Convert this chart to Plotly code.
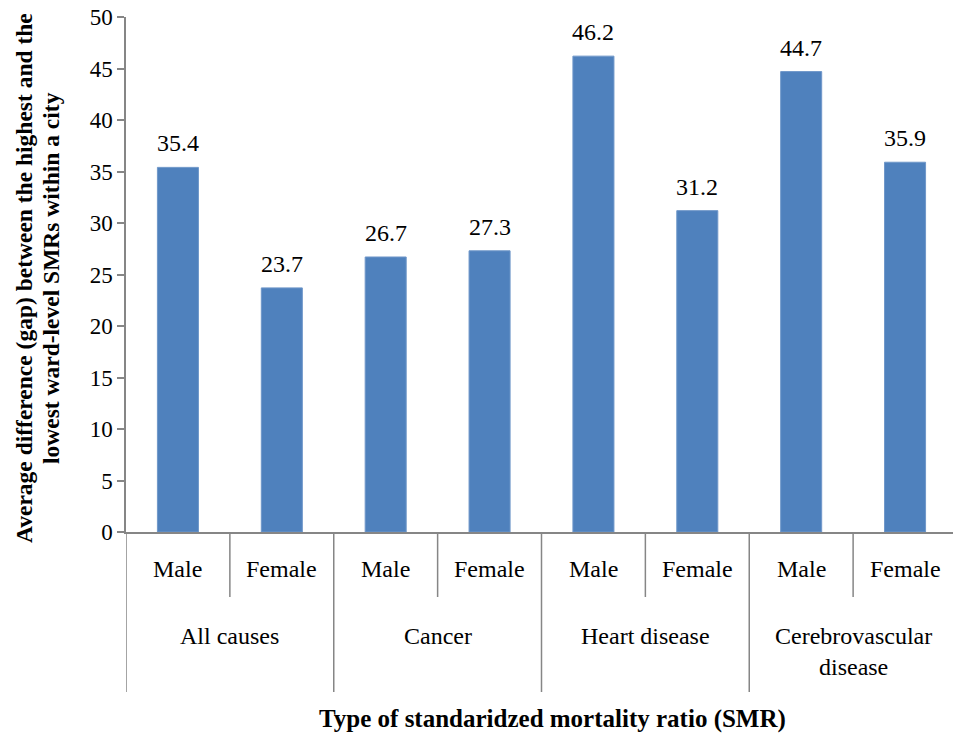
import plotly.graph_objects as go

# Cause-of-death groups and the sex sub-categories within each group
groups = ["All causes", "Cancer", "Heart disease", "Cerebrovascular<br>disease"]
sexes = ["Male", "Female"]
# Average gap between highest and lowest ward-level SMR, ordered group by group (Male, Female)
values = [35.4, 23.7, 26.7, 27.3, 46.2, 31.2, 44.7, 35.9]
y_ticks = [0, 5, 10, 15, 20, 25, 30, 35, 40, 45, 50]
y_title_lines = [
    "Average difference (gap) between the highest and the",
    "lowest ward-level SMRs within a city",
]
x_title = "Type of standaridzed mortality ratio (SMR)"

FONT = "Liberation Serif"
AXIS_GREY = "#868686"
BAR_BLUE = "#4F81BD"

W, H = 953, 739
M_L, M_R, M_T, M_B = 126, 0, 17, 207
PLOT_H = H - M_T - M_B
PLOT_W = W - M_L - M_R


def serif(size, weight=400):
    return dict(family=FONT, size=size, weight=weight, color="black")


x_pos = list(range(len(values)))

fig = go.Figure()
fig.add_trace(go.Bar(
    x=x_pos,
    y=values,
    marker=dict(color=BAR_BLUE, line=dict(color="#6f97c9", width=1)),
    width=0.395,
    hoverinfo="x+y",
))

annotations = []
# value labels above each bar
for xi, v in zip(x_pos, values):
    annotations.append(dict(
        x=xi, y=v, xref="x", yref="y", text=f"{v:.1f}", showarrow=False,
        yanchor="middle", yshift=24, font=serif(24),
    ))


def px_below_axis(px):
    """Paper y coordinate for a point `px` pixels below the x axis."""
    return -px / PLOT_H


# sub-category labels (Male / Female)
for gi, g in enumerate(groups):
    for si, s in enumerate(sexes):
        xi = gi * len(sexes) + si
        annotations.append(dict(
            x=xi, y=px_below_axis(37), xref="x", yref="paper", text=s,
            showarrow=False, yanchor="middle", font=serif(24),
        ))
    # group labels
    annotations.append(dict(
        x=gi * len(sexes) + 0.5, y=px_below_axis(89), xref="x", yref="paper",
        text=g, showarrow=False, yanchor="top", align="center", font=serif(24),
    ))

# x axis title
annotations.append(dict(
    x=(552 - M_L) / PLOT_W, y=px_below_axis(187), xref="paper", yref="paper",
    text=x_title, showarrow=False,
    yanchor="middle", xanchor="center", font=serif(25, 700),
))
# y axis title, one rotated annotation per line
for line, cx in zip(y_title_lines, [24, 51]):
    annotations.append(dict(
        x=0, y=(H - M_B - 278) / PLOT_H, xref="paper", yref="paper", xshift=-(M_L - cx),
        text=line, showarrow=False, textangle=-90, xanchor="center", yanchor="middle",
        font=serif(23.5, 700),
    ))

# category dividers below the x axis: long ones between groups, short ones between sexes
shapes = []
n = len(values)
for k in range(n + 1):
    edge = k - 0.5
    long_div = (k % len(sexes) == 0)
    shapes.append(dict(
        type="line", xref="x", yref="paper", x0=edge, x1=edge,
        y0=0, y1=px_below_axis(160 if long_div else 65),
        line=dict(color=AXIS_GREY, width=1.5),
    ))

fig.update_layout(
    width=W, height=H,
    margin=dict(l=M_L, r=M_R, t=M_T, b=M_B),
    paper_bgcolor="white", plot_bgcolor="white",
    showlegend=False,
    font=serif(22),
    xaxis=dict(
        range=[-0.5, n - 0.5 - 4 / 104], showticklabels=False, ticks="",
        showgrid=False, zeroline=False, showline=True,
        linecolor=AXIS_GREY, linewidth=1.5, fixedrange=True,
    ),
    yaxis=dict(
        range=[0, 50], tickvals=y_ticks, ticks="outside", ticklen=7,
        tickcolor=AXIS_GREY, tickwidth=1.5, showgrid=False, zeroline=False,
        showline=True, linecolor=AXIS_GREY, linewidth=1.5,
        tickfont=serif(23), ticksuffix="\u2009\u2009", fixedrange=True,
    ),
    annotations=annotations,
    shapes=shapes,
)

fig.write_html("out.html")
